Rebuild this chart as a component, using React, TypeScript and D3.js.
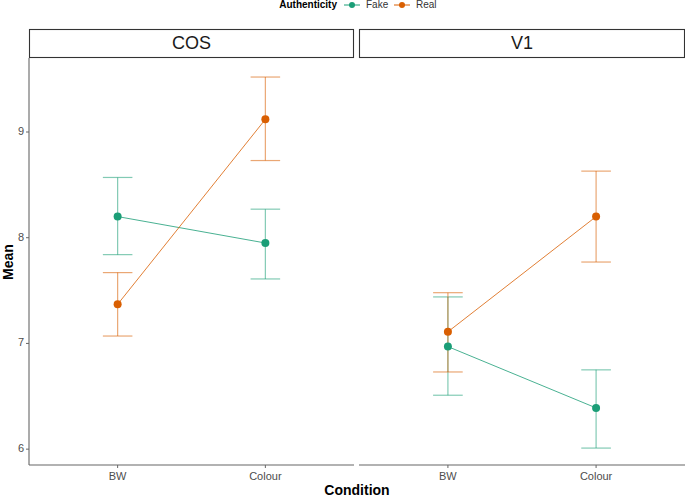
import React from "react";
import * as d3 from "d3";

const panels = ["COS", "V1"];
const conditions = ["BW", "Colour"];
const groups = ["Fake", "Real"];
const colors = ["#1B9E77", "#D95F02"];
const yTicks = [6, 7, 8, 9];

// [panel][group][condition]
const means = [
  [[8.2, 7.95], [7.37, 9.12]],
  [[6.97, 6.39], [7.11, 8.2]],
];
const lowers = [
  [[7.84, 7.61], [7.07, 8.73]],
  [[6.51, 6.01], [6.73, 7.77]],
];
const uppers = [
  [[8.57, 8.27], [7.67, 9.52]],
  [[7.44, 6.75], [7.48, 8.63]],
];

const W = 685;
const H = 497;
const plotTop = 58;
const plotBottom = 465;
const stripTop = 29;
const panelX = [[29, 354], [359, 685]];

export default function App() {
  const y = d3.scaleLinear().domain([5.85, 9.7]).range([plotBottom, plotTop]);
  const font = "Liberation Sans, Arial, sans-serif";
  return (
    <svg width={W} height={H} style={{ position: "absolute", left: 0, top: 0 }} fontFamily={font}>
      <rect width={W} height={H} fill="white" />
      {/* legend */}
      <g>
        <text x={337} y={5} fontSize={10} fontWeight="bold" textAnchor="end" dominantBaseline="middle" fill="#000">Authenticity</text>
        {groups.map((g, i) => {
          const kx = 352 + i * 50;
          return (
            <g key={g}>
              <line x1={kx - 8} x2={kx + 8} y1={5} y2={5} stroke={colors[i]} strokeWidth={1} />
              <circle cx={kx} cy={5} r={3} fill={colors[i]} />
              <text x={kx + 14} y={5} fontSize={10} dominantBaseline="middle" fill="#333">{g}</text>
            </g>
          );
        })}
      </g>
      {panels.map((p, pi) => {
        const [x0, x1] = panelX[pi];
        const x = d3.scalePoint().domain(conditions).range([x0, x1]).padding(0.6);
        const bw = (x1 - x0) / 2.2;
        const capHalf = bw * 0.1;
        return (
          <g key={p}>
            {/* strip */}
            <rect x={x0 + 0.5} y={stripTop + 0.5} width={x1 - x0 - 1} height={plotTop - stripTop - 1} fill="white" stroke="#333" strokeWidth={1.1} />
            <text x={(x0 + x1) / 2} y={(stripTop + plotTop) / 2 + 1} fontSize={18} textAnchor="middle" dominantBaseline="middle" fill="#1a1a1a">{p}</text>
            {/* axes */}
            <line x1={x0} x2={x1} y1={plotBottom} y2={plotBottom} stroke="#666" strokeWidth={1.1} />
            {pi === 0 && (
              <line x1={x0} x2={x0} y1={plotTop} y2={plotBottom} stroke="#666" strokeWidth={1.1} />
            )}
            {pi === 0 &&
              yTicks.map((t) => (
                <g key={t}>
                  <line x1={x0 - 3} x2={x0} y1={y(t)} y2={y(t)} stroke="#666" />
                  <text x={x0 - 5} y={y(t)} fontSize={11} textAnchor="end" dominantBaseline="middle" fill="#4d4d4d">{t}</text>
                </g>
              ))}
            {conditions.map((c) => (
              <g key={c}>
                <line x1={x(c)!} x2={x(c)!} y1={plotBottom} y2={plotBottom + 3} stroke="#666" />
                <text x={x(c)!} y={plotBottom + 12} fontSize={11} textAnchor="middle" dominantBaseline="middle" fill="#4d4d4d">{c}</text>
              </g>
            ))}
            {/* error bars */}
            {groups.map((g, gi) => (
              <g key={g} stroke={colors[gi]} strokeOpacity={0.55} strokeWidth={1.2}>
                {conditions.map((c, ci) => {
                  const cx = x(c)!;
                  return (
                    <g key={c}>
                      <line x1={cx} x2={cx} y1={y(lowers[pi][gi][ci])} y2={y(uppers[pi][gi][ci])} />
                      <line x1={cx - capHalf} x2={cx + capHalf} y1={y(lowers[pi][gi][ci])} y2={y(lowers[pi][gi][ci])} />
                      <line x1={cx - capHalf} x2={cx + capHalf} y1={y(uppers[pi][gi][ci])} y2={y(uppers[pi][gi][ci])} />
                    </g>
                  );
                })}
              </g>
            ))}
            {/* lines */}
            {groups.map((g, gi) => {
              const line = d3.line<number>().x((_, ci) => x(conditions[ci])!).y((v) => y(v));
              return (
                <path key={g} d={line(means[pi][gi])!} fill="none" stroke={colors[gi]} strokeOpacity={0.8} strokeWidth={1} />
              );
            })}
            {/* points */}
            {groups.map((g, gi) =>
              conditions.map((c, ci) => (
                <circle key={g + c} cx={x(c)!} cy={y(means[pi][gi][ci])} r={4} fill={colors[gi]} />
              ))
            )}
          </g>
        );
      })}
      <text x={357} y={491} fontSize={14} fontWeight="bold" textAnchor="middle" dominantBaseline="middle" fill="#000">Condition</text>
      <text transform={`translate(9,262) rotate(-90)`} fontSize={14} fontWeight="bold" textAnchor="middle" dominantBaseline="middle" fill="#000">Mean</text>
    </svg>
  );
}
